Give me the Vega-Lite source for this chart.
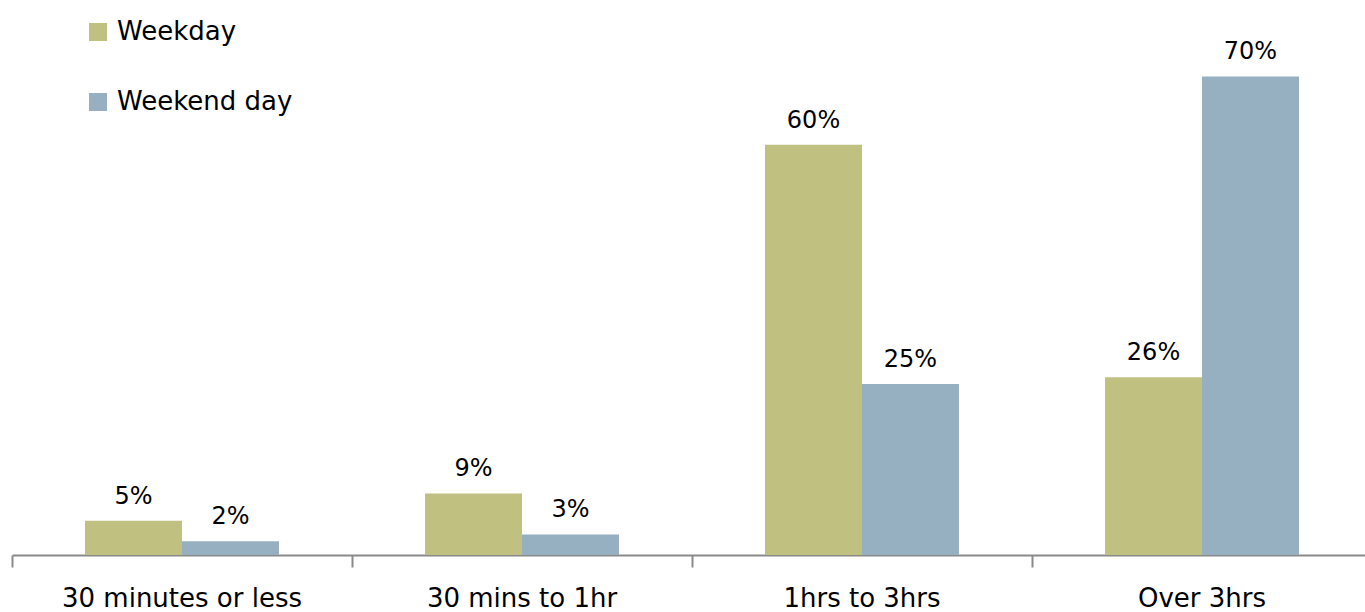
{
  "$schema": "https://vega.github.io/schema/vega-lite/v6.json",
  "width": 1360,
  "height": 547,
  "autosize": {"type": "none"},
  "padding": {"left": 12, "top": 8, "right": 0, "bottom": 57},
  "background": "white",
  "config": {"view": {"stroke": null}, "font": "DejaVu Sans"},
  "data": {
    "values": [
      {"cat": "30 minutes or less", "series": "Weekday", "v": 0.05},
      {"cat": "30 minutes or less", "series": "Weekend day", "v": 0.02},
      {"cat": "30 mins to 1hr", "series": "Weekday", "v": 0.09},
      {"cat": "30 mins to 1hr", "series": "Weekend day", "v": 0.03},
      {"cat": "1hrs to 3hrs", "series": "Weekday", "v": 0.60},
      {"cat": "1hrs to 3hrs", "series": "Weekend day", "v": 0.25},
      {"cat": "Over 3hrs", "series": "Weekday", "v": 0.26},
      {"cat": "Over 3hrs", "series": "Weekend day", "v": 0.70}
    ]
  },
  "encoding": {
    "x": {
      "field": "cat", "type": "nominal", "sort": null,
      "scale": {"paddingInner": 0, "paddingOuter": 0},
      "axis": {
        "title": null, "labelAngle": 0, "labelFontSize": 26, "labelColor": "#000000", "labelLimit": 0,
        "labelPadding": 18, "domainColor": "#8a8a8a", "domainWidth": 2,
        "tickColor": "#8a8a8a", "tickWidth": 2, "tickSize": 12, "bandPosition": 0
      }
    },
    "xOffset": {"field": "series", "type": "nominal", "scale": {"paddingInner": 0, "paddingOuter": 0.753}},
    "y": {"field": "v", "type": "quantitative", "scale": {"domain": [0, 0.8]}, "axis": null}
  },
  "layer": [
    {
      "mark": {"type": "bar"},
      "encoding": {
        "color": {
          "field": "series", "type": "nominal",
          "scale": {"domain": ["Weekday", "Weekend day"], "range": ["#C0C080", "#96B0C2"]},
          "legend": {
            "title": null, "orient": "none", "legendX": 73, "legendY": 11,
            "symbolType": "square", "symbolSize": 324, "symbolStrokeWidth": 0,
            "labelFontSize": 26, "labelColor": "#000000", "rowPadding": 44, "labelOffset": 6, "labelLimit": 0
          }
        }
      }
    },
    {
      "mark": {"type": "text", "baseline": "bottom", "dy": -12, "fontSize": 24, "color": "#000000"},
      "encoding": {"text": {"field": "v", "type": "quantitative", "format": ".0%"}}
    }
  ]
}
